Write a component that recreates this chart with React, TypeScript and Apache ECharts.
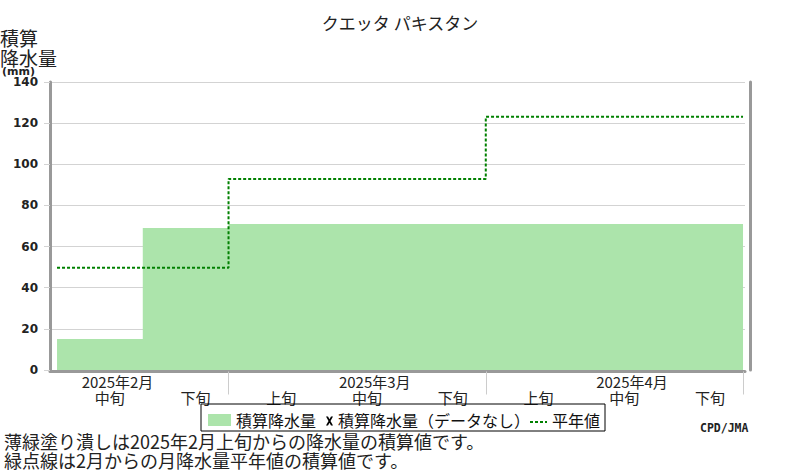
import React, { useEffect, useRef } from "react";
import * as echarts from "echarts";

const chartTitle = "クエッタ パキスタン";
const yAxisTitle = ["積算", "降水量", "(mm)"];
const dekadLabels = ["中旬", "下旬", "上旬", "中旬", "下旬", "上旬", "中旬", "下旬"];
const monthLabels = ["2025年2月", "2025年3月", "2025年4月"];
const monthLabelDekad = [0, 3, 6];
const monthStartDekad = [0, 2, 5];
const monthBoundaryDekad = [2, 5, 8];
const accumulated = [15.1, 69, 71, 71, 71, 71, 71, 71];
const normalAccumulated = [49.7, 92.9, 123.1];
const yMin = 0;
const yMax = 140;
const yStep = 20;
const legendNames = ["積算降水量", "積算降水量（データなし）", "平年値"];
const notes = [
  "薄緑塗り潰しは2025年2月上旬からの降水量の積算値です。",
  "緑点線は2月からの月降水量平年値の積算値です。",
];
const credit = "CPD/JMA";

const JP = "'Noto Sans CJK JP', 'Noto Sans', sans-serif";
const AREA_COLOR = "#ace4ab";
const NORMAL_COLOR = "#008000";
const GRID_COLOR = "#d3d3d3";
const FRAME_COLOR = "#999999";

// legend icons (23 x 12 boxes; tiny corner marks fix the bounding box)
const CORNERS = "M0 0h0.01v0.01h-0.01z M22.99 11.99h0.01v0.01h-0.01z ";
const X_ICON =
  "path://" +
  CORNERS +
  "M16 2.5L18 2.5L23 11.5L21 11.5Z M21 2.5L23 2.5L18 11.5L16 11.5Z";
const DOT_ICON =
  "path://" +
  CORNERS +
  "M6 7h3v2h-3z M11 7h3v2h-3z M16 7h3v2h-3z M21 7h2v2h-2z";

function buildOption() {
  const nDekads = dekadLabels.length;

  const areaData: number[][] = [];
  accumulated.forEach((v, i) => {
    areaData.push([i, v], [i + 1, v]);
  });

  const normalData: number[][] = [];
  normalAccumulated.forEach((v, i) => {
    const s = monthStartDekad[i];
    const e = i + 1 < monthStartDekad.length ? monthStartDekad[i + 1] : nDekads;
    normalData.push([s, v], [e, v]);
  });

  const xMin = -0.082;
  const xMax = nDekads + 0.023;

  const noteTitles = notes.map((t, i) => ({
    text: t,
    left: 4,
    top: 432 + i * 18.5,
    padding: 0,
    textStyle: { fontSize: 18, lineHeight: 18, fontWeight: "normal", color: "#222", fontFamily: JP },
  }));

  return {
    animation: false,
    textStyle: { fontFamily: JP },
    title: [
      {
        text: chartTitle,
        left: "center",
        top: 14,
        padding: 0,
        textStyle: { fontSize: 17, fontWeight: "normal", color: "#222", fontFamily: JP },
      },
      {
        text: `{a|${yAxisTitle[0]}}\n{a|${yAxisTitle[1]}}\n{b|${yAxisTitle[2]}}`,
        left: 0,
        top: 27,
        padding: 0,
        textStyle: {
          fontWeight: "normal",
          rich: {
            a: { fontSize: 19, lineHeight: 20, fontWeight: "normal", color: "#222", fontFamily: JP },
            b: {
              fontSize: 11,
              lineHeight: 9,
              fontWeight: "bold",
              color: "#222",
              fontFamily: "'DejaVu Sans', sans-serif",
              padding: [0, 0, 0, 2],
            },
          },
        },
      },
      ...noteTitles,
      {
        text: credit,
        left: 700,
        top: 422,
        padding: 0,
        textStyle: {
          fontSize: 11.5,
          fontWeight: "bold",
          color: "#222",
          fontFamily: "'DejaVu Sans Mono', monospace",
        },
      },
    ],
    legend: {
      left: 201,
      top: 404,
      orient: "horizontal",
      padding: [8, 5, 3, 7],
      borderColor: "#000",
      borderWidth: 1,
      itemWidth: 23,
      itemHeight: 12,
      itemGap: -6,
      selectedMode: false,
      textStyle: { fontSize: 16, color: "#111", fontFamily: JP },
      itemStyle: { borderWidth: 0 },
      data: [
        { name: legendNames[0], icon: "rect", itemStyle: { color: AREA_COLOR, borderWidth: 0 } },
        { name: legendNames[1], icon: X_ICON, itemStyle: { color: "#000", borderWidth: 0 } },
        { name: legendNames[2], icon: DOT_ICON, itemStyle: { color: NORMAL_COLOR, borderWidth: 0 } },
      ],
    },
    grid: { left: 50, right: 55, top: 82, bottom: 100, containLabel: false },
    xAxis: [
      {
        type: "value",
        position: "bottom",
        min: xMin,
        max: xMax,
        offset: 1.5,
        axisLine: { show: true, onZero: false, lineStyle: { color: FRAME_COLOR, width: 3 } },
        axisTick: {
          show: true,
          customValues: monthBoundaryDekad,
          length: 23,
          lineStyle: { color: "#cccccc", width: 1 },
        },
        splitLine: { show: false },
        axisLabel: {
          show: true,
          customValues: dekadLabels.map((_, i) => i + 0.615),
          formatter: (v: number) => dekadLabels[Math.floor(v + 1e-6)] ?? "",
          margin: 18,
          fontSize: 15,
          color: "#222",
          fontFamily: JP,
        },
      },
      {
        type: "value",
        position: "bottom",
        min: xMin,
        max: xMax,
        offset: 0,
        axisLine: { show: false, onZero: false },
        axisTick: { show: false },
        splitLine: { show: false },
        axisLabel: {
          show: true,
          customValues: monthLabelDekad.map((d) => d + 0.705),
          formatter: (v: number) => {
            const k = monthLabelDekad.indexOf(Math.floor(v + 1e-6));
            return k >= 0 ? monthLabels[k] : "";
          },
          margin: 4,
          fontSize: 15,
          color: "#222",
          fontFamily: JP,
        },
      },
    ],
    yAxis: [
      {
        type: "value",
        position: "left",
        min: yMin,
        max: yMax,
        interval: yStep,
        axisLine: { show: true, onZero: false, lineStyle: { color: FRAME_COLOR, width: 3 } },
        axisTick: { show: true, length: 6, lineStyle: { color: GRID_COLOR } },
        splitLine: { show: true, lineStyle: { color: GRID_COLOR, width: 1 } },
        axisLabel: {
          margin: 12,
          fontSize: 12,
          fontWeight: "bold",
          color: "#222",
          fontFamily: "'DejaVu Sans', sans-serif",
        },
      },
      {
        type: "value",
        position: "right",
        min: yMin,
        max: yMax,
        interval: yStep,
        offset: 5.5,
        axisLine: { show: true, onZero: false, lineStyle: { color: FRAME_COLOR, width: 3 } },
        axisTick: { show: false },
        splitLine: { show: false },
        axisLabel: { show: false },
      },
    ],
    series: [
      {
        name: legendNames[0],
        type: "line",
        xAxisIndex: 0,
        yAxisIndex: 0,
        data: areaData,
        symbol: "none",
        color: AREA_COLOR,
        lineStyle: { width: 0, opacity: 0 },
        areaStyle: { color: AREA_COLOR, opacity: 1 },
        z: 2,
      },
      {
        name: legendNames[1],
        type: "line",
        xAxisIndex: 0,
        yAxisIndex: 0,
        data: [],
        symbol: "none",
        color: "#000",
      },
      {
        name: legendNames[2],
        type: "line",
        xAxisIndex: 0,
        yAxisIndex: 0,
        data: normalData,
        symbol: "none",
        color: NORMAL_COLOR,
        lineStyle: { color: NORMAL_COLOR, width: 2, type: [3, 2] },
        z: 3,
      },
    ],
  };
}

export default function App() {
  const ref = useRef<HTMLDivElement>(null);
  useEffect(() => {
    document.body.style.margin = "0";
    if (!ref.current) return;
    const chart = echarts.init(ref.current, undefined, { renderer: "svg" });
    chart.setOption(buildOption() as any);
    return () => {
      chart.dispose();
    };
  }, []);
  return <div ref={ref} style={{ width: 800, height: 470, background: "#fff" }} />;
}
